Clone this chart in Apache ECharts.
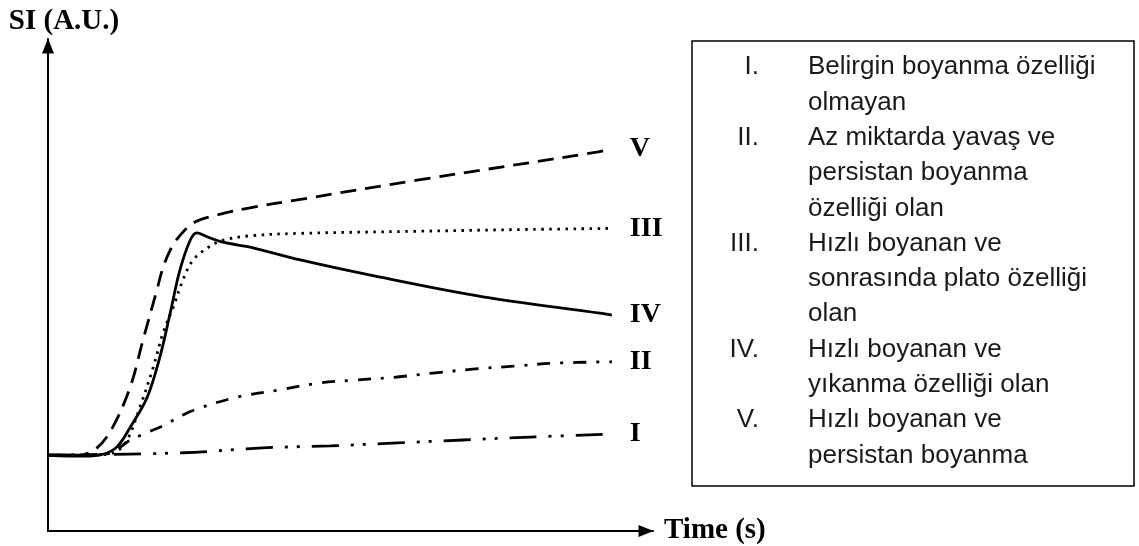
<!DOCTYPE html>
<html>
<head>
<meta charset="utf-8">
<script src="https://cdn.jsdelivr.net/npm/echarts@6/dist/echarts.min.js"></script>
<style>
  html, body { margin: 0; padding: 0; background: #fff; }
  #chart { width: 1139px; height: 546px; }
</style>
</head>
<body>
<div id="chart"></div>
<script>
// curve data: [time, SI] pairs, arbitrary units (0-100)
const curveI = [[0, 15.4], [22.3, 15.9], [35.5, 16.9], [46.6, 17.3], [57.7, 17.9], [68.6, 18.5], [79.7, 19.1], [93.2, 19.7]];
const curveII = [[0, 15.4], [9, 15.6], [11, 16.2], [13.1, 18.1], [16, 19.8], [19, 21.4], [22.3, 23.6], [25.1, 25.0], [31.2, 27.2],
  [38.3, 28.7], [45, 30.1], [51, 30.7], [57.7, 31.3], [63.6, 32.1], [70.2, 32.9], [76.9, 33.5], [83.5, 34.1], [93.2, 34.4]];
const curveIII = [[0, 15.4], [9, 15.5], [11.5, 16.3], [13.1, 18.5], [15.2, 25.2], [17.4, 33.3], [19, 40.2], [20.7, 45.5], [22.3, 51.0],
  [24, 55.1], [26.8, 57.9], [28.9, 59.1], [33.4, 60.0], [41.7, 60.5], [60, 60.9], [80, 61.3], [93.2, 61.5]];
const curveIV = [[0, 15.4], [6, 15.2], [9.1, 15.6], [11.4, 17.1], [13.6, 21.1], [16.4, 27.2], [18.5, 35.4], [20.2, 44.3], [21.8, 53],
  [23.5, 59.1], [24.6, 60.6], [26.3, 59.8], [28.9, 58.7], [33.4, 57.7], [41.7, 55.1], [54.9, 51.6], [71.9, 47.6], [91.2, 44.3], [93.2, 43.9]];
const curveV = [[0, 15.4], [5, 15.4], [8.1, 16.9], [10.7, 21.1], [13.6, 29.3], [15.7, 38.8], [18, 49], [19, 53.5], [20.2, 57.1],
  [21.3, 59.3], [24, 62.6], [27.9, 64.2], [33.4, 65.7], [41.2, 67.3], [61, 71.3], [90.7, 77], [93.2, 77.6]];

const curveNames = ['I', 'II', 'III', 'IV', 'V'];
const curveData = [curveI, curveII, curveIII, curveIV, curveV];
const curveDash = [[27, 12, 3, 9, 3, 12], [13, 10, 3, 10], [2.5, 5.5], 'solid', [16, 9]];

// legend box texts
const legendNumerals = ['I.', 'II.', 'III.', 'IV.', 'V.'];
const legendLines = [
  ['Belirgin boyanma özelliği', 'olmayan'],
  ['Az miktarda yavaş ve', 'persistan boyanma', 'özelliği olan'],
  ['Hızlı boyanan ve', 'sonrasında plato özelliği', 'olan'],
  ['Hızlı boyanan ve', 'yıkanma özelliği olan'],
  ['Hızlı boyanan ve', 'persistan boyanma']
];

const serif = "'Liberation Serif', 'Times New Roman', serif";
const sans = "'Liberation Sans', Arial, sans-serif";

const chart = echarts.init(document.getElementById('chart'));

// build the legend box
const lineH = 35.3;
const legendGraphics = [{
  type: 'rect',
  shape: { x: 692, y: 41, width: 442, height: 445 },
  style: { fill: '#fff', stroke: '#000', lineWidth: 1.5 }
}];
let row = 0;
legendLines.forEach((lines, i) => {
  const top = 49.5 + row * lineH;
  legendGraphics.push({
    type: 'text', x: 759, y: top,
    style: { text: legendNumerals[i], font: '26px ' + sans, fill: '#1a1a1a', align: 'right', verticalAlign: 'top', lineHeight: lineH }
  });
  legendGraphics.push({
    type: 'text', x: 808, y: top,
    style: { text: lines.join('\n'), font: '26px ' + sans, fill: '#1a1a1a', align: 'left', verticalAlign: 'top', lineHeight: lineH }
  });
  row += lines.length;
});

const axisLine = {
  lineStyle: { color: '#000', width: 2 },
  symbol: ['none', 'triangle'],
  symbolSize: [12, 15],
  symbolOffset: [0, -7]
};

const option = {
  animation: false,
  grid: { left: 48, right: 486, top: 39, bottom: 15 },
  xAxis: {
    type: 'value', min: 0, max: 100,
    name: 'Time (s)', nameLocation: 'end', nameGap: 11,
    nameTextStyle: { fontFamily: serif, fontWeight: 'bold', fontSize: 29, color: '#000' },
    axisLine: axisLine,
    axisTick: { show: false }, axisLabel: { show: false }, splitLine: { show: false }
  },
  yAxis: {
    type: 'value', min: 0, max: 100,
    name: 'SI (A.U.)', nameLocation: 'end', nameGap: 3,
    nameTextStyle: { fontFamily: serif, fontWeight: 'bold', fontSize: 29, color: '#000', align: 'center', padding: [0, 0, 0, 32] },
    axisLine: axisLine,
    axisTick: { show: false }, axisLabel: { show: false }, splitLine: { show: false }
  },
  series: curveNames.map((name, i) => ({
    name: name,
    type: 'line',
    data: curveData[i],
    smooth: 0.35,
    showSymbol: false,
    lineStyle: { color: '#000', width: 2.8, type: curveDash[i], cap: 'butt' },
    endLabel: {
      show: true, formatter: '{a}', distance: 18,
      fontFamily: serif, fontWeight: 'bold', fontSize: 28, color: '#000'
    }
  })),
  graphic: legendGraphics
};

chart.setOption(option);
</script>
</body>
</html>
